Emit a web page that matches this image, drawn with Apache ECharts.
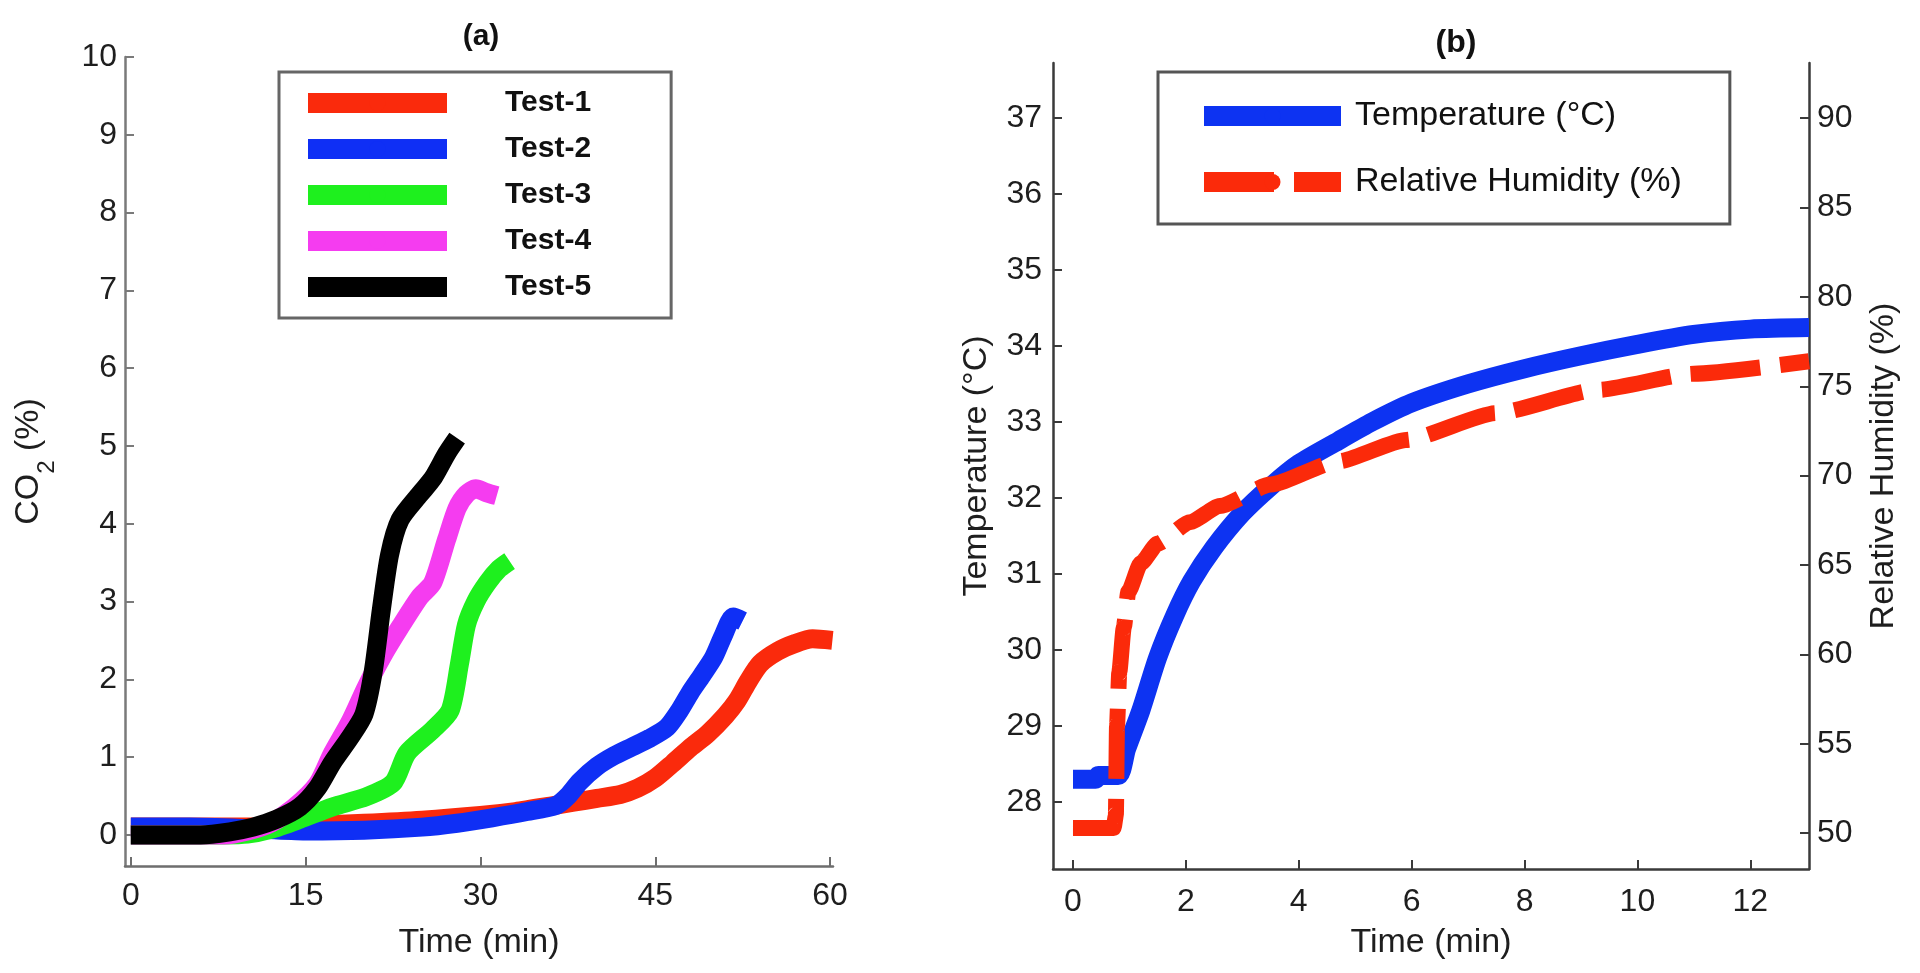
<!DOCTYPE html>
<html>
<head>
<meta charset="utf-8">
<title>CO2 / Temperature / Humidity</title>
<script src="https://cdn.jsdelivr.net/npm/echarts@6/dist/echarts.min.js"></script>
<style>
html, body { margin: 0; padding: 0; background: #fff; }
#chart { width: 1920px; height: 973px; }
</style>
</head>
<body>
<div id="chart"></div>
<script>
let chart = echarts.init(document.querySelector('#chart'));
let fontFamily = '"Liberation Sans", Arial, Helvetica, sans-serif';

// (a) CO2 (%) vs time (min), one array of [time, co2] per test
let testNames = ['Test-1', 'Test-2', 'Test-3', 'Test-4', 'Test-5'];
let testColors = ['#fa2a0c', '#0f2ff5', '#1ef01e', '#f53cf0', '#000000'];
let test1 = [[0,0.1],[5,0.1],[10,0.1],[15,0.12],[20,0.15],[25,0.19],[30,0.25],[33,0.3],[36,0.37],[38,0.42],[40,0.47],[42,0.52],[43.5,0.6],[45,0.73],[46.5,0.92],[48,1.12],[49.5,1.3],[51,1.53],[52,1.72],[53,1.98],[54,2.2],[55.5,2.36],[57,2.46],[58.5,2.52],[60.2,2.5]];
let test2 = [[0,0.1],[5,0.1],[10,0.08],[15,0.05],[20,0.06],[25,0.1],[28,0.15],[31,0.22],[34,0.3],[36.5,0.38],[37.5,0.5],[38.5,0.68],[40,0.88],[41.5,1.02],[43,1.13],[44.5,1.24],[46,1.38],[47,1.58],[48,1.83],[49,2.05],[50,2.28],[50.8,2.55],[51.7,2.8],[52.5,2.75]];
let test3 = [[0,0],[8,0],[10,0.01],[12,0.07],[14.5,0.2],[17.3,0.36],[20.2,0.49],[22.5,0.67],[23.7,1.05],[25.9,1.35],[27.4,1.6],[28.2,2.2],[28.8,2.7],[29.6,3.0],[30.6,3.24],[31.6,3.42],[32.5,3.52]];
let test4 = [[0,0],[8,0],[10,0.05],[12,0.15],[14,0.35],[16,0.65],[17.3,1.05],[18.8,1.45],[20.2,1.9],[21.6,2.3],[23.1,2.67],[24.8,3.06],[25.9,3.24],[27.1,3.8],[28,4.2],[28.8,4.38],[29.6,4.45],[30.5,4.4],[31.4,4.36]];
let test5 = [[0,0],[6,0],[8.5,0.04],[10.5,0.1],[12.5,0.2],[14.5,0.36],[16,0.6],[17.3,0.93],[18.8,1.25],[20,1.55],[20.8,2.1],[21.5,2.9],[22.2,3.6],[23.1,4.05],[24.8,4.38],[25.9,4.58],[27.1,4.9],[28,5.1]];
let co2Tests = [test1, test2, test3, test4, test5];
let co2Ticks = [0, 1, 2, 3, 4, 5, 6, 7, 8, 9, 10];
let co2TimeTicks = [0, 15, 30, 45, 60];

// (b) temperature (°C) and relative humidity (%) vs time (min)
let seriesNamesB = ['Temperature (°C)', 'Relative Humidity (%)'];
let temperature = [[0,28.3],[0.4,28.3],[0.45,28.35],[0.8,28.35],[0.95,28.7],[1.2,29.2],[1.5,29.9],[1.8,30.45],[2.1,30.9],[2.5,31.35],[3,31.8],[3.5,32.15],[4,32.45],[4.7,32.75],[5.3,33.0],[6,33.25],[7,33.5],[8,33.7],[9,33.87],[10,34.02],[11,34.15],[12,34.22],[13.04,34.24]];
let humidity = [[0,50.3],[0.72,50.3],[0.76,51],[0.78,56],[0.82,59],[0.9,61.5],[0.98,63.5],[1.2,65.1],[1.5,66.2],[2.07,67.4],[2.6,68.3],[3.5,69.5],[4.7,70.8],[5.9,72],[7.5,73.5],[9.3,74.8],[11,75.7],[13.04,76.4]];
let timeTicksB = [0, 2, 4, 6, 8, 10, 12];
let tempTicks = [28, 29, 30, 31, 32, 33, 34, 35, 36, 37];
let humidityTicks = [50, 55, 60, 65, 70, 75, 80, 85, 90];

// shared look for every axis, MATLAB style ticks pointing inwards
function makeAxis(gridIndex, min, max, ticks, color, labelMargin, extra) {
  let axis = {
    type: 'value',
    gridIndex: gridIndex,
    min: min,
    max: max,
    axisLine: { onZero: false, lineStyle: { color: color, width: 2.5 } },
    axisTick: { inside: true, length: 9, customValues: ticks, lineStyle: { color: color, width: 2 } },
    axisLabel: { customValues: ticks, margin: labelMargin, fontSize: 32, color: '#1e1e1e', fontFamily: fontFamily },
    splitLine: { show: false },
    nameLocation: 'middle',
    nameTextStyle: { fontSize: 34, color: '#1e1e1e', fontFamily: fontFamily }
  };
  return Object.assign(axis, extra);
}

let series = [];
for (let i = 0; i < co2Tests.length; i++) {
  series.push({
    name: testNames[i],
    type: 'line',
    xAxisIndex: 0,
    yAxisIndex: 0,
    data: co2Tests[i],
    symbol: 'none',
    smooth: 0.25,
    color: testColors[i],
    lineStyle: { width: 19, color: testColors[i], join: 'round' }
  });
}
series.push({
  name: seriesNamesB[0],
  type: 'line',
  xAxisIndex: 1,
  yAxisIndex: 1,
  data: temperature,
  symbol: 'none',
  smooth: 0.25,
  color: '#0d33f2',
  lineStyle: { width: 19, color: '#0d33f2', join: 'round' }
});
series.push({
  name: seriesNamesB[1],
  type: 'line',
  xAxisIndex: 1,
  yAxisIndex: 2,
  data: humidity,
  symbol: 'none',
  smooth: 0.2,
  smoothMonotone: 'x',
  color: '#fb2a0a',
  lineStyle: { width: 16, color: '#fb2a0a', type: [70, 20], join: 'round' }
});

let option = {
  animation: false,
  backgroundColor: '#fff',
  title: [
    { text: '(a)', left: 481, top: 22, textAlign: 'center', padding: 0,
      textStyle: { fontSize: 30, fontWeight: 'bold', color: '#111', fontFamily: fontFamily } },
    { text: '(b)', left: 1456, top: 27, textAlign: 'center', padding: 0,
      textStyle: { fontSize: 32, fontWeight: 'bold', color: '#111', fontFamily: fontFamily } }
  ],
  legend: [
    {
      data: testNames,
      orient: 'vertical',
      left: 279,
      top: 72,
      padding: [15, 80, 15, 19],
      itemWidth: 139,
      itemHeight: 20,
      itemGap: 14,
      selectedMode: false,
      borderColor: '#666',
      borderWidth: 3,
      lineStyle: { width: 20 },
      textStyle: { fontSize: 30, fontWeight: 'bold', lineHeight: 32, color: '#111', fontFamily: fontFamily, padding: [0, 0, 0, 53] }
    },
    {
      data: seriesNamesB,
      orient: 'vertical',
      left: 1158,
      top: 72,
      padding: [27, 48, 25, 36],
      itemWidth: 137,
      itemHeight: 20,
      itemGap: 32,
      selectedMode: false,
      borderColor: '#555',
      borderWidth: 3,
      lineStyle: { width: 20 },
      textStyle: { fontSize: 34, lineHeight: 34, color: '#111', fontFamily: fontFamily, padding: [0, 0, 0, 9] }
    }
  ],
  grid: [
    { left: 125, top: 57, width: 708, height: 809 },
    { left: 1053, top: 63, width: 756, height: 806 }
  ],
  xAxis: [
    makeAxis(0, -0.5, 60.25, co2TimeTicks, '#6e6e6e', 14, { name: 'Time (min)', nameGap: 60 }),
    makeAxis(1, -0.354, 13.04, timeTicksB, '#3a3a3a', 17, { name: 'Time (min)', nameGap: 57 })
  ],
  yAxis: [
    makeAxis(0, -0.4, 10, co2Ticks, '#7a7a7a', 8, {
      name: 'CO{sub|2} (%)',
      nameGap: 66,
      nameTextStyle: {
        fontSize: 34, color: '#1e1e1e', fontFamily: fontFamily,
        rich: { sub: { fontSize: 24, color: '#1e1e1e', fontFamily: fontFamily, padding: [36, 0, 0, 0] } }
      }
    }),
    makeAxis(1, 27.12, 37.72, tempTicks, '#3a3a3a', 11, { name: 'Temperature (°C)', nameGap: 59, position: 'left' }),
    makeAxis(1, 48, 93.08, humidityTicks, '#3a3a3a', 8, { name: 'Relative Humidity (%)', nameGap: 58, position: 'right' })
  ],
  series: series
};

chart.setOption(option);
</script>
</body>
</html>
